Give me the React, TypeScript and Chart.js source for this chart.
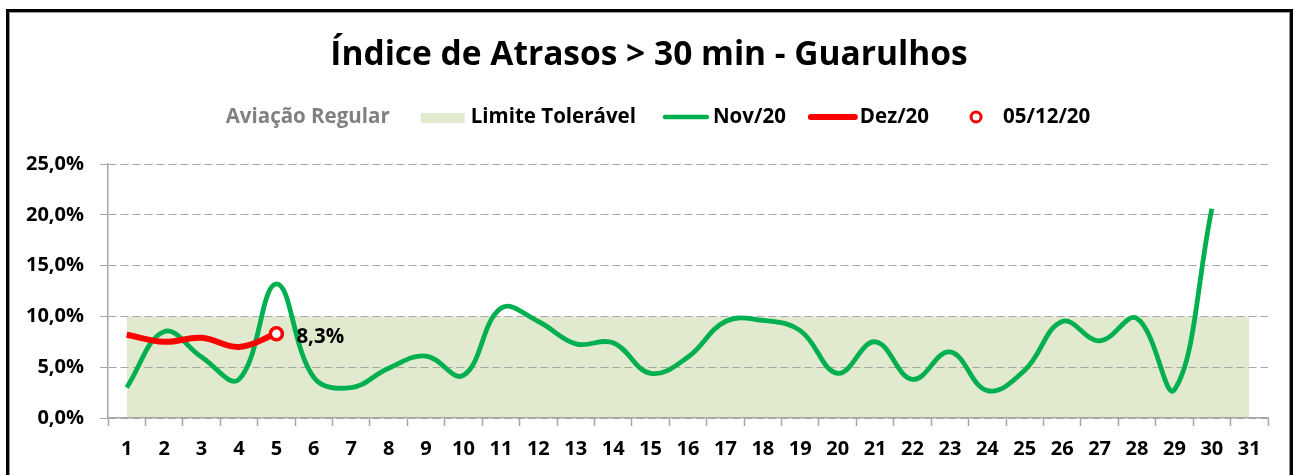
import React, { useEffect, useRef } from "react";
import { Chart, registerables } from "chart.js";

Chart.register(...registerables);

// ---------- data ----------
const DAYS = [
  "1", "2", "3", "4", "5", "6", "7", "8", "9", "10", "11", "12", "13", "14", "15", "16",
  "17", "18", "19", "20", "21", "22", "23", "24", "25", "26", "27", "28", "29", "30", "31",
];
const NOV_20 = [
  3.0, 8.5, 6.0, 3.8, 13.2, 4.0, 3.0, 4.9, 6.1, 4.2, 10.8, 9.5, 7.3, 7.4, 4.4, 6.0,
  9.5, 9.6, 8.6, 4.4, 7.5, 3.8, 6.5, 2.7, 4.7, 9.5, 7.6, 9.8, 2.8, 20.6, null,
];
const DEZ_20 = [
  8.2, 7.5, 7.9, 7.0, 8.3, null, null, null, null, null, null, null, null, null, null, null,
  null, null, null, null, null, null, null, null, null, null, null, null, null, null, null,
];
const PONTO_05_12_20 = [
  null, null, null, null, 8.3, null, null, null, null, null, null, null, null, null, null, null,
  null, null, null, null, null, null, null, null, null, null, null, null, null, null, null,
];
const LIMITE_TOLERAVEL = [
  10, 10, 10, 10, 10, 10, 10, 10, 10, 10, 10, 10, 10, 10, 10, 10,
  10, 10, 10, 10, 10, 10, 10, 10, 10, 10, 10, 10, 10, 10, 10,
];
const Y_MIN = 0;
const Y_MAX = 25;
const Y_STEP = 5;
const TITLE = "Índice de Atrasos > 30 min - Guarulhos";
const LEGEND_LABELS = ["Aviação Regular", "Limite Tolerável", "Nov/20", "Dez/20", "05/12/20"];

// ---------- styles ----------
const FONT = "'Open Sans', Lato, sans-serif";
const GREEN = "#00b050";
const RED = "#ff0000";
const FILL = "#e1e9cf";
const GRID = "#a6a6a6";

const pct = (v: number) => v.toFixed(1).replace(".", ",") + "%";

// title + legend drawn in the band above the plot
const headerPlugin = {
  id: "header",
  afterDraw(chart: any) {
    const ctx = chart.ctx as CanvasRenderingContext2D;
    ctx.save();
    // title
    ctx.font = `bold 33.5px ${FONT}`;
    ctx.fillStyle = "#000";
    ctx.textAlign = "center";
    ctx.textBaseline = "middle";
    ctx.fillText(TITLE, 649, 55);

    // legend
    ctx.font = `bold 20.5px ${FONT}`;
    ctx.textBaseline = "middle";
    ctx.textAlign = "left";
    const y = 117;
    const items = [
      { text: LEGEND_LABELS[0], textColor: "#808080", sym: "none", symW: 0, gapIn: 0 },
      { text: LEGEND_LABELS[1], textColor: "#000", sym: "rect", symW: 44, gapIn: 6 },
      { text: LEGEND_LABELS[2], textColor: "#000", sym: "line", color: GREEN, lw: 4.5, symW: 46, gapIn: 4 },
      { text: LEGEND_LABELS[3], textColor: "#000", sym: "line", color: RED, lw: 6, symW: 48, gapIn: 3 },
      { text: LEGEND_LABELS[4], textColor: "#000", sym: "circle", symW: 14, gapIn: 20 },
    ];
    const gaps = [31, 27, 23, 40];
    const widths = items.map((it) => it.symW + it.gapIn + ctx.measureText(it.text).width);
    const total = widths.reduce((a, b) => a + b, 0) + gaps.reduce((a, b) => a + b, 0);
    let x = 658 - total / 2;
    items.forEach((it: any, i) => {
      if (it.sym === "rect") {
        ctx.fillStyle = FILL;
        ctx.fillRect(x, y - 4, it.symW, 10);
      } else if (it.sym === "line") {
        ctx.strokeStyle = it.color;
        ctx.lineWidth = it.lw;
        ctx.lineCap = "round";
        ctx.beginPath();
        ctx.moveTo(x + 2, y);
        ctx.lineTo(x + it.symW - 2, y);
        ctx.stroke();
      } else if (it.sym === "circle") {
        ctx.strokeStyle = RED;
        ctx.fillStyle = "#fff";
        ctx.lineWidth = 3;
        ctx.beginPath();
        ctx.arc(x + 7, y, 5, 0, Math.PI * 2);
        ctx.fill();
        ctx.stroke();
      }
      ctx.fillStyle = it.textColor;
      ctx.fillText(it.text, x + it.symW + it.gapIn, y);
      x += widths[i] + (gaps[i] || 0);
    });
    ctx.restore();
  },
};

const dataLabelPlugin = {
  id: "pointLabel",
  afterDatasetsDraw(chart: any) {
    const ctx = chart.ctx as CanvasRenderingContext2D;
    const meta = chart.getDatasetMeta(3);
    ctx.save();
    ctx.font = `bold 20.5px ${FONT}`;
    ctx.fillStyle = "#000";
    ctx.textAlign = "left";
    ctx.textBaseline = "middle";
    meta.data.forEach((el: any, i: number) => {
      const v = PONTO_05_12_20[i];
      if (v == null) return;
      ctx.fillText(pct(v), el.x + 20, el.y + 3);
    });
    ctx.restore();
  },
};

export default function App() {
  const ref = useRef<HTMLCanvasElement | null>(null);

  useEffect(() => {
    if (!ref.current) return;
    const chart = new Chart(ref.current, {
      type: "line",
      data: {
        labels: DAYS,
        datasets: [
          {
            label: LEGEND_LABELS[1],
            data: LIMITE_TOLERAVEL,
            borderWidth: 0,
            borderColor: "rgba(0,0,0,0)",
            backgroundColor: FILL,
            fill: "origin",
            pointRadius: 0,
            tension: 0,
            order: 10,
          },
          {
            label: LEGEND_LABELS[2],
            data: NOV_20,
            borderColor: GREEN,
            borderWidth: 4.8,
            pointRadius: 0,
            tension: 0.4,
            fill: false,
            order: 3,
          },
          {
            label: LEGEND_LABELS[3],
            data: DEZ_20,
            borderColor: RED,
            borderWidth: 6,
            pointRadius: 0,
            tension: 0.4,
            fill: false,
            order: 2,
          },
          {
            label: LEGEND_LABELS[4],
            data: PONTO_05_12_20,
            showLine: false,
            pointRadius: 6,
            pointBorderWidth: 3.5,
            pointBorderColor: RED,
            pointBackgroundColor: "#ffffff",
            fill: false,
            order: 1,
          },
        ],
      },
      options: {
        responsive: false,
        animation: false,
        layout: { padding: { left: 0, right: 27, top: 164, bottom: 0 } },
        plugins: {
          legend: { display: false },
          tooltip: { enabled: false },
          title: { display: false },
          filler: { drawTime: "beforeDraw" },
        },
        scales: {
          x: {
            offset: true,
            grid: {
              offset: true,
              drawOnChartArea: false,
              drawTicks: true,
              tickLength: 8,
              tickColor: GRID,
              tickWidth: 1.5,
              color: GRID,
            },
            border: { display: true, color: GRID, width: 1.5 },
            ticks: {
              color: "#000",
              font: { family: FONT, size: 20, weight: "bold" },
              padding: 11,
              maxRotation: 0,
              autoSkip: false,
            },
            afterFit: (s: any) => {
              s.height = 57;
            },
          },
          y: {
            min: Y_MIN,
            max: Y_MAX,
            grid: {
              color: GRID,
              lineWidth: 1,
              tickLength: 8,
              tickColor: GRID,
              tickWidth: 1,
            },
            border: { display: true, color: GRID, width: 1.5, dash: [8, 4] },
            ticks: {
              stepSize: Y_STEP,
              color: "#000",
              font: { family: FONT, size: 20, weight: "bold" },
              padding: 16,
              callback: (v: any) => pct(Number(v)),
            },
            afterFit: (s: any) => {
              s.width = 108;
            },
          },
        },
      },
      plugins: [headerPlugin, dataLabelPlugin],
    } as any);
    if ((document as any).fonts && (document as any).fonts.ready) {
      (document as any).fonts.ready.then(() => {
        try {
          chart.update("none");
        } catch (e) {}
      });
    }
    return () => chart.destroy();
  }, []);

  return (
    <div>
      <div
        style={{
          position: "fixed",
          left: 6,
          top: 9,
          width: 1281,
          height: 475,
          borderTop: "3px solid #000",
          borderLeft: "3px solid #000",
          borderRight: "3px solid #000",
          boxShadow: "inset 0 0 0 1px #999",
          background: "#fff",
        }}
      />
      <canvas
        ref={ref}
        width={1295}
        height={475}
        style={{ position: "fixed", left: 0, top: 0, width: 1295, height: 475 }}
      />
    </div>
  );
}
